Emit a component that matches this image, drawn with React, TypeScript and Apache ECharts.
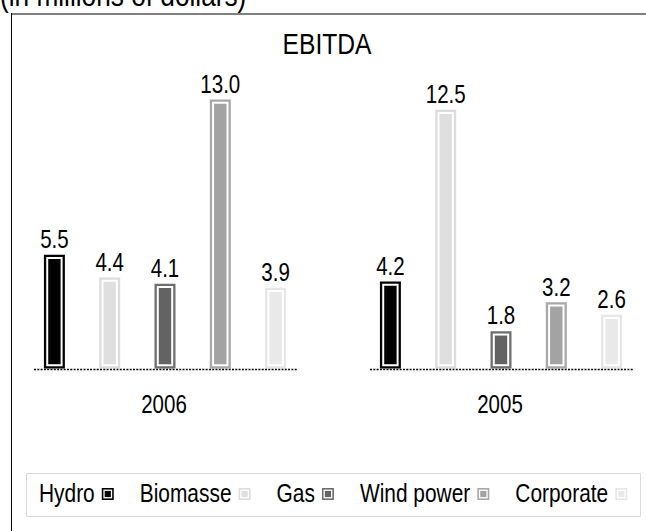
import React, { useEffect, useRef } from "react";
import * as echarts from "echarts";

const categories = ["2006", "2005"];
const seriesNames = ["Hydro", "Biomasse", "Gas", "Wind power", "Corporate"];
const hydro = [5.5, 4.2];
const biomasse = [4.4, 12.5];
const gas = [4.1, 1.8];
const windPower = [13.0, 3.2];
const corporate = [3.9, 2.6];
const seriesValues = [hydro, biomasse, gas, windPower, corporate];

const colors = ["#000000", "#dfdfdf", "#636363", "#a3a3a3", "#e9e9e9"];
const borderColors = ["#000000", "#dcdcdc", "#6e6e6e", "#a8a8a8", "#e6e6e6"];
const FONT = '"Liberation Sans", Arial, Helvetica, sans-serif';
const NARROW = 0.82;

function measure(text: string, size: number): number {
  const c = document.createElement("canvas").getContext("2d");
  if (!c) return text.length * size * 0.5;
  c.font = `${size}px "Liberation Sans", Arial, sans-serif`;
  return c.measureText(text).width;
}

function buildLegend(): any[] {
  const els: any[] = [];
  const size = 25.5;
  const cy = 494;
  let x = 39;
  seriesNames.forEach((name, i) => {
    const w = measure(name, size) * NARROW;
    els.push({
      type: "text",
      x,
      y: cy - 1,
      scaleX: NARROW,
      style: { text: name, align: "left", verticalAlign: "middle", fontSize: size, fontFamily: FONT, fill: "#000" },
    });
    const s = 12;
    const ix = x + w + 7;
    const iy = cy - s / 2;
    els.push({ type: "rect", shape: { x: ix, y: iy, width: s, height: s }, style: { fill: borderColors[i] } });
    els.push({ type: "rect", shape: { x: ix + 1.6, y: iy + 1.6, width: s - 3.2, height: s - 3.2 }, style: { fill: "#fff" } });
    els.push({ type: "rect", shape: { x: ix + 2.9, y: iy + 2.9, width: s - 5.8, height: s - 5.8 }, style: { fill: colors[i] } });
    x = ix + s + 26;
  });
  return els;
}

export default function App() {
  const ref = useRef<HTMLDivElement>(null);
  useEffect(() => {
    if (!ref.current) return;
    const chart = echarts.init(ref.current, null, { renderer: "svg" });
    const STEP = 55.3;
    const BAR_W = 21;
    const series: any[] = seriesNames.map((name, si) => ({
      name,
      type: "custom",
      itemStyle: { color: colors[si] },
      encode: { x: 0, y: 1 },
      data: categories.map((c, i) => [i, seriesValues[si][i]]),
      renderItem: (params: any, api: any) => {
        const idx = api.value(0);
        const v = api.value(1);
        const p0 = api.coord([idx, 0]);
        const p1 = api.coord([idx, v]);
        const cx = p0[0] + (si - 2) * STEP;
        const x = cx - BAR_W / 2;
        const top = p1[1];
        const h = p0[1] - top;
        return {
          type: "group",
          children: [
            { type: "rect", shape: { x, y: top, width: BAR_W, height: h }, style: { fill: borderColors[si] } },
            { type: "rect", shape: { x: x + 2.3, y: top + 2.3, width: BAR_W - 4.6, height: h - 4.6 }, style: { fill: "#ffffff" } },
            { type: "rect", shape: { x: x + 4.3, y: top + 4.3, width: BAR_W - 8.6, height: h - 8.6 }, style: { fill: colors[si] } },
            {
              type: "text",
              x: cx,
              y: top - 3,
              scaleX: NARROW,
              style: {
                text: v.toFixed(1),
                align: "center",
                verticalAlign: "bottom",
                fontSize: 25,
                fontFamily: FONT,
                fill: "#000",
              },
            },
          ],
        };
      },
    }));
    series.push({
      name: "baseline",
      type: "custom",
      encode: { x: 0, y: 1 },
      data: categories.map((c, i) => [i, 0]),
      renderItem: (params: any, api: any) => {
        const idx = api.value(0);
        const p0 = api.coord([idx, 0]);
        return {
          type: "group",
          children: [
            {
              type: "line",
              shape: { x1: p0[0] - 131, y1: p0[1] + 1, x2: p0[0] + 132, y2: p0[1] + 1 },
              style: { stroke: "#000", lineWidth: 1.6, lineDash: [2, 1.3] },
            },
            {
              type: "text",
              x: p0[0] - 1,
              y: p0[1] + 36,
              scaleX: NARROW,
              style: {
                text: categories[idx],
                align: "center",
                verticalAlign: "middle",
                fontSize: 25,
                fontFamily: FONT,
                fill: "#000",
              },
            },
          ],
        };
      },
    });
    chart.setOption({
      animation: false,
      backgroundColor: "#ffffff",
      textStyle: { fontFamily: FONT },
      grid: { left: 165, right: 145, top: 78.7, bottom: 162.5 },
      xAxis: {
        type: "category",
        data: categories,
        boundaryGap: false,
        axisLine: { show: false },
        axisTick: { show: false },
        splitLine: { show: false },
        axisLabel: { show: false },
      },
      yAxis: { type: "value", min: 0, max: 14, show: false, splitLine: { show: false } },
      graphic: [
        { type: "line", shape: { x1: 11, y1: 14, x2: 646, y2: 14 }, style: { stroke: "#808080", lineWidth: 2 } },
        { type: "line", shape: { x1: 11.5, y1: 13, x2: 11.5, y2: 531 }, style: { stroke: "#000000", lineWidth: 1 } },
        { type: "rect", shape: { x: 26.5, y: 473.5, width: 614, height: 43 }, style: { fill: "none", stroke: "#d9d9d9", lineWidth: 1 } },
        {
          type: "text",
          x: 327,
          y: 44,
          scaleX: NARROW,
          style: { text: "EBITDA", align: "center", verticalAlign: "middle", fontSize: 30, fontFamily: FONT, fill: "#000" },
        },
        {
          type: "text",
          x: 0,
          y: 11,
          scaleX: NARROW,
          style: { text: "(in millions of dollars)", align: "left", verticalAlign: "bottom", fontSize: 32, fontFamily: FONT, fill: "#000" },
        },
        ...buildLegend(),
      ],
      series,
    });
    return () => chart.dispose();
  }, []);
  return <div ref={ref} style={{ position: "fixed", left: 0, top: 0, width: 646, height: 531 }} />;
}
